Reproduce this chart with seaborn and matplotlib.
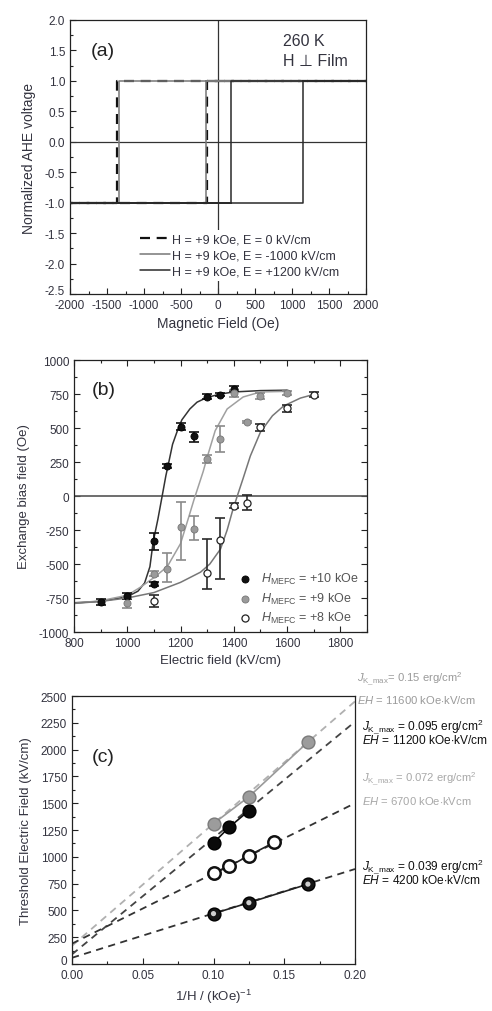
import numpy as np
import pandas as pd
import seaborn as sns
import matplotlib.pyplot as plt
import matplotlib.transforms as mtransforms
from matplotlib.ticker import MultipleLocator, FormatStrFormatter

# ---- panel (a): hysteresis loops, switching fields (Oe)
loop_labels = ['H = +9 kOe, E = 0 kV/cm',
               'H = +9 kOe, E = -1000 kV/cm',
               'H = +9 kOe, E = +1200 kV/cm']
switch_down = [-1360, -1340, 176]   # field where +1 -> -1 on descending branch
switch_up = [-150, -160, 1150]      # field where -1 -> +1 on ascending branch
field_limits = [-2000, 2000]

# ---- panel (b): exchange bias vs electric field
e10 = [900, 1000, 1100, 1100, 1150, 1200, 1250, 1300, 1350, 1400]
h10 = [-780, -735, -650, -330, 220, 510, 440, 730, 745, 790]
lo10 = [25, 20, 15, 65, 15, 25, 45, 20, 10, 20]
hi10 = [25, 20, 15, 55, 15, 25, 30, 20, 10, 20]

e9 = [1000, 1100, 1150, 1200, 1250, 1300, 1350, 1400, 1450, 1500, 1600]
h9 = [-785, -570, -540, -230, -245, 270, 420, 755, 545, 735, 755]
lo9 = [35, 20, 90, 240, 80, 30, 100, 25, 10, 20, 15]
hi9 = [35, 20, 120, 185, 100, 30, 95, 25, 10, 20, 15]

e8 = [1100, 1300, 1350, 1400, 1450, 1500, 1600, 1700]
h8 = [-770, -566, -320, -70, -50, 505, 645, 745]
lo8 = [45, 120, 290, 15, 55, 25, 25, 20]
hi8 = [45, 250, 160, 15, 55, 25, 25, 20]

# fitted curves
fit10_e = [800, 900, 1000, 1040, 1065, 1085, 1097, 1115, 1131, 1145, 1155, 1170,
           1190, 1205, 1235, 1262, 1300, 1350, 1400, 1500, 1600]
fit10_h = [-785, -775, -740, -700, -640, -520, -340, -170, 0, 150, 240, 380,
           490, 560, 640, 690, 725, 750, 765, 775, 778]
fit9_e = [800, 900, 1000, 1050, 1100, 1150, 1200, 1230, 1250, 1265, 1285, 1300,
          1330, 1375, 1435, 1500, 1610]
fit9_h = [-790, -770, -730, -670, -600, -520, -350, -160, -30, 60, 180, 285,
          480, 640, 728, 765, 770]
fit8_e = [800, 900, 1000, 1100, 1200, 1275, 1310, 1350, 1375, 1395, 1413, 1435,
          1462, 1500, 1545, 1587, 1650, 1706]
fit8_h = [-790, -775, -750, -710, -635, -560, -500, -390, -250, -110, 0, 130,
          294, 470, 590, 662, 720, 750]
legend_b = [r'$H_{\mathrm{MEFC}}$ = +10 kOe', r'$H_{\mathrm{MEFC}}$ = +9 kOe',
            r'$H_{\mathrm{MEFC}}$ = +8 kOe']

# ---- panel (c): threshold field vs 1/H
gray_x = [0.1, 0.125, 0.1667]
gray_y = [1310, 1560, 2070]
black_x = [0.1, 0.111, 0.125]
black_y = [1130, 1275, 1430]
open_x = [0.1, 0.111, 0.125, 0.143]
open_y = [845, 910, 1012, 1135]
half_x = [0.1, 0.125, 0.1667]
half_y = [470, 572, 745]
ext_x = [0.0, 0.2]
gray_ext = [170, 2450]
black_ext = [90, 2260]
open_ext = [190, 1500]
half_ext = [58, 886]
jk_text = [r'$J_{\mathrm{K\_max}}$= 0.15 erg/cm$^2$',
           r'$J_{\mathrm{K\_max}}$ = 0.095 erg/cm$^2$',
           r'$J_{\mathrm{K\_max}}$ = 0.072 erg/cm$^2$',
           r'$J_{\mathrm{K\_max}}$ = 0.039 erg/cm$^2$']
eh_text = [r'$EH$ = 11600 kOe$\cdot$kV/cm',
           r'$EH$ = 11200 kOe$\cdot$kV/cm',
           r'$EH$ = 6700 kOe$\cdot$kVcm',
           r'$EH$ = 4200 kOe$\cdot$kV/cm']

sns.set_theme(style='ticks')
plt.rcParams['font.family'] = ['Liberation Sans', 'DejaVu Sans']
plt.rcParams['mathtext.fontset'] = 'custom'
plt.rcParams['mathtext.rm'] = 'Liberation Sans'
plt.rcParams['mathtext.it'] = 'Liberation Sans:italic'
plt.rcParams['mathtext.bf'] = 'Liberation Sans:bold'
plt.rcParams['axes.unicode_minus'] = False

tick_col = '#33333f'

fig = plt.figure(figsize=(4.92, 10.12), dpi=100)
W, H = 492, 1012
ax_a = fig.add_axes([70 / W, 1 - 295 / H, 296 / W, 274 / H])
ax_b = fig.add_axes([74 / W, 1 - 633 / H, 293 / W, 272 / H])
ax_c = fig.add_axes([72 / W, 1 - 965 / H, 283 / W, 268 / H])


def style_axes(ax, both_sides=False):
    for sp in ax.spines.values():
        sp.set_color('#222222')
        sp.set_linewidth(0.9)
        sp.set_visible(True)
    ax.tick_params(which='both', direction='in', top=both_sides, right=both_sides,
                   colors='#222222', labelcolor=tick_col, labelsize=8.5, width=0.8)
    ax.tick_params(which='major', length=4)
    ax.tick_params(which='minor', length=2)
    ax.grid(False)


# ---------------- (a)
ax_a.axhline(0, color='#333333', lw=0.9, zorder=1)
ax_a.axvline(0, color='#333333', lw=0.9, zorder=1)
loop_styles = [dict(color='#111111', lw=1.6, linestyle=(0, (4.5, 3))),
               dict(color='#777777', lw=1.1, linestyle='-'),
               dict(color='#2a2a2a', lw=1.1, linestyle='-')]
for i in range(3):
    lo, hi = field_limits
    df = pd.DataFrame({
        'field': [lo, switch_up[i], switch_up[i], hi, switch_down[i], switch_down[i], lo],
        'v': [-1, -1, 1, 1, 1, -1, -1]})
    sns.lineplot(data=df, x='field', y='v', sort=False, estimator=None, ax=ax_a,
                 label=loop_labels[i], zorder=3, **loop_styles[i])
ax_a.set_xlim(-2000, 2000)
ax_a.set_ylim(-2.5, 2.0)
ax_a.xaxis.set_major_locator(MultipleLocator(500))
ax_a.xaxis.set_minor_locator(MultipleLocator(250))
ax_a.yaxis.set_major_locator(MultipleLocator(0.5))
ax_a.yaxis.set_minor_locator(MultipleLocator(0.25))
ax_a.yaxis.set_major_formatter(FormatStrFormatter('%.1f'))
style_axes(ax_a)
ax_a.set_xlabel('Magnetic Field (Oe)', fontsize=10, color=tick_col, labelpad=4)
ax_a.set_ylabel('Normalized AHE voltage', fontsize=10, color=tick_col, labelpad=6)
leg = ax_a.legend(loc='upper left', bbox_to_anchor=(0.223, 0.235), fontsize=9,
                  frameon=True, borderpad=0.3, borderaxespad=0, labelspacing=0.32,
                  handlelength=2.4, handletextpad=0.2)
leg.get_frame().set_edgecolor('none')
leg.get_frame().set_facecolor('white')
leg.get_frame().set_alpha(1)
for t in leg.get_texts():
    t.set_color(tick_col)
ax_a.text(0.11, 0.887, '(a)', transform=ax_a.transAxes, fontsize=14,
          ha='center', va='center', color='#222222')
ax_a.text(0.72, 0.927, '260 K', transform=ax_a.transAxes, fontsize=11.5,
          va='center', color=tick_col)
ax_a.text(0.72, 0.854, 'H \u22a5 Film', transform=ax_a.transAxes, fontsize=11.5,
          va='center', color=tick_col)

# ---------------- (b)
ax_b.axhline(0, color='#555555', lw=1.2, zorder=1)
sns.lineplot(x=fit10_e, y=fit10_h, ax=ax_b, color='#333333', lw=1.1, sort=False, zorder=2)
sns.lineplot(x=fit9_e, y=fit9_h, ax=ax_b, color='#a0a0a0', lw=1.1, sort=False, zorder=2)
sns.lineplot(x=fit8_e, y=fit8_h, ax=ax_b, color='#777777', lw=1.1, sort=False, zorder=2)
ax_b.errorbar(e10, h10, yerr=[lo10, hi10], fmt='none', ecolor='#111111',
              elinewidth=1.2, capsize=3.5, capthick=1.2, zorder=3)
ax_b.errorbar(e9, h9, yerr=[lo9, hi9], fmt='none', ecolor='#8a8a8a',
              elinewidth=1.2, capsize=3.5, capthick=1.2, zorder=3)
ax_b.errorbar(e8, h8, yerr=[lo8, hi8], fmt='none', ecolor='#2a2a2a',
              elinewidth=1.2, capsize=3.5, capthick=1.2, zorder=3)
sns.scatterplot(x=e10, y=h10, ax=ax_b, color='#111111', edgecolor='#000000', s=26,
                linewidth=0.6, zorder=4, label=legend_b[0])
sns.scatterplot(x=e9, y=h9, ax=ax_b, color='#9a9a9a', edgecolor='#777777', s=26,
                linewidth=0.6, zorder=4, label=legend_b[1])
sns.scatterplot(x=e8, y=h8, ax=ax_b, color='white', edgecolor='#222222', s=26,
                linewidth=0.9, zorder=4, label=legend_b[2])
ax_b.set_xlim(800, 1900)
ax_b.set_ylim(-1000, 1000)
ax_b.set_xticks([800, 1000, 1200, 1400, 1600, 1800])
ax_b.xaxis.set_minor_locator(MultipleLocator(100))
ax_b.yaxis.set_major_locator(MultipleLocator(250))
ax_b.yaxis.set_minor_locator(MultipleLocator(125))
style_axes(ax_b, both_sides=True)
ax_b.set_xlabel('Electric field (kV/cm)', fontsize=9.5, color=tick_col, labelpad=4)
ax_b.set_ylabel('Exchange bias field (Oe)', fontsize=9.5, color=tick_col, labelpad=6)
leg = ax_b.legend(loc='upper left', bbox_to_anchor=(0.555, 0.232), fontsize=9,
                  frameon=False, borderpad=0.2, borderaxespad=0, labelspacing=0.35,
                  handlelength=1.0, handletextpad=0.75)
for t in leg.get_texts():
    t.set_color('#555555')
ax_b.text(0.1, 0.893, '(b)', transform=ax_b.transAxes, fontsize=14,
          ha='center', va='center', color='#222222')

# ---------------- (c)
dash = (0, (4, 3))
sns.lineplot(x=ext_x, y=gray_ext, ax=ax_c, color='#b0b0b0', lw=1.3, linestyle=dash, zorder=2)
sns.lineplot(x=ext_x, y=black_ext, ax=ax_c, color='#444444', lw=1.3, linestyle=dash, zorder=2)
sns.lineplot(x=ext_x, y=open_ext, ax=ax_c, color='#333333', lw=1.3, linestyle=dash, zorder=2)
sns.lineplot(x=ext_x, y=half_ext, ax=ax_c, color='#333333', lw=1.3, linestyle=dash, zorder=2)
sns.lineplot(x=gray_x, y=gray_y, ax=ax_c, color='#9a9a9a', lw=1.2, zorder=3)
sns.lineplot(x=black_x, y=black_y, ax=ax_c, color='#111111', lw=1.2, zorder=3)
sns.lineplot(x=open_x, y=open_y, ax=ax_c, color='#222222', lw=1.2, zorder=3)
sns.lineplot(x=half_x, y=half_y, ax=ax_c, color='#222222', lw=1.2, zorder=3)
sns.scatterplot(x=gray_x, y=gray_y, ax=ax_c, color='#9c9c9c', edgecolor='#7a7a7a',
                s=85, linewidth=1.0, zorder=4)
sns.scatterplot(x=black_x, y=black_y, ax=ax_c, color='#0a0a0a', edgecolor='#000000',
                s=85, linewidth=1.0, zorder=4)
sns.scatterplot(x=open_x, y=open_y, ax=ax_c, color='white', edgecolor='#111111',
                s=80, linewidth=1.8, zorder=4)
sns.scatterplot(x=half_x, y=half_y, ax=ax_c, color='#151515', edgecolor='#000000',
                s=85, linewidth=1.0, zorder=4)
sns.scatterplot(x=half_x, y=half_y, ax=ax_c, color='#cfcfcf', edgecolor='none',
                s=14, zorder=5)
ax_c.set_xlim(0, 0.2)
ax_c.set_ylim(0, 2500)
ax_c.xaxis.set_major_locator(MultipleLocator(0.05))
ax_c.xaxis.set_minor_locator(MultipleLocator(0.025))
ax_c.xaxis.set_major_formatter(FormatStrFormatter('%.2f'))
ax_c.yaxis.set_major_locator(MultipleLocator(250))
ax_c.yaxis.set_minor_locator(MultipleLocator(125))
style_axes(ax_c)
ax_c.set_xlabel(r'1/H / (kOe)$^{\mathrm{-1}}$', fontsize=9.5, color=tick_col, labelpad=4)
ax_c.set_ylabel('Threshold Electric Field (kV/cm)', fontsize=9.5, color=tick_col, labelpad=6)
ax_c.text(0.11, 0.776, '(c)', transform=ax_c.transAxes, fontsize=14,
          ha='center', va='center', color='#222222')

ann_pos = [(357, 679, 700), (362, 727, 741), (362, 779, 801), (362, 867, 881)]
ann_col = ['#9a9a9a', '#111111', '#a8a8a8', '#111111']
ann_size = [8.1, 8.6, 8.1, 8.6]
for i in range(4):
    x, y1, y2 = ann_pos[i]
    fig.text(x / W, 1 - y1 / H, jk_text[i], fontsize=ann_size[i], color=ann_col[i], va='center')
    fig.text(x / W, 1 - y2 / H, eh_text[i], fontsize=ann_size[i], color=ann_col[i], va='center')

# lift the lowest y tick label a little so it does not sit on the first x label
fig.canvas.draw()
lift = mtransforms.ScaledTranslation(0, 0.045, fig.dpi_scale_trans)
for ax in (ax_a, ax_c):
    y_min = ax.get_ylim()[0]
    for tick in ax.yaxis.get_major_ticks():
        if abs(tick.get_loc() - y_min) < 1e-9 * max(1.0, abs(y_min)) + 1e-9:
            lab = tick.label1
            lab.set_transform(lab.get_transform() + lift)

fig.savefig('out.png', dpi=100)
